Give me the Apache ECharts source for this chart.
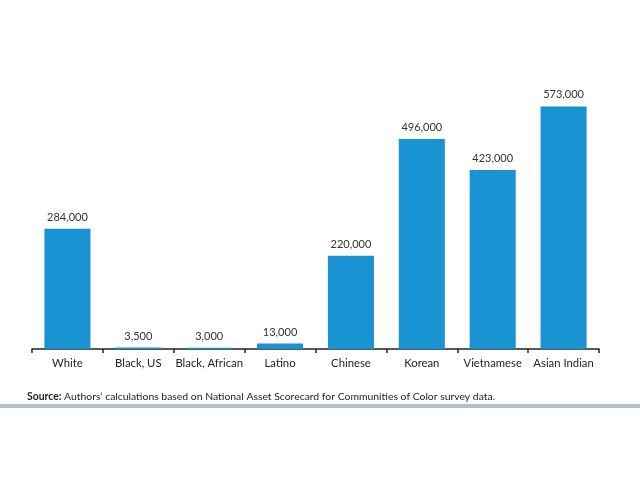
<!DOCTYPE html>
<html>
<head>
<meta charset="utf-8">
<script src="https://cdn.jsdelivr.net/npm/echarts@6/dist/echarts.min.js"></script>
<style>
  html, body { margin: 0; padding: 0; background: #fff; }
  #chart { width: 640px; height: 480px; }
</style>
</head>
<body>
<div id="chart"></div>
<script>
// groups and their values
const categories = ['White', 'Black, US', 'Black, African', 'Latino', 'Chinese', 'Korean', 'Vietnamese', 'Asian Indian'];
const values = [284000, 3500, 3000, 13000, 220000, 496000, 423000, 573000];
const sourceNote = 'Authors\u2019 calculations based on National Asset Scorecard for Communities of Color survey data.';

const chart = echarts.init(document.getElementById('chart'));
chart.setOption({
    animation: false,
    textStyle: { fontFamily: 'Lato' },
    grid: { left: 32, right: 41, top: 95, bottom: 131 },
    xAxis: {
        type: 'category',
        data: categories,
        axisLine: { lineStyle: { color: '#222', width: 1.5 } },
        axisTick: { show: true, interval: 0, length: 4, lineStyle: { color: '#222', width: 1.5 } },
        axisLabel: { interval: 0, color: '#222', fontSize: 11.3, margin: 9 }
    },
    yAxis: {
        type: 'value',
        min: 0,
        max: 600000,
        show: false,
        splitLine: { show: false }
    },
    series: [{
        type: 'bar',
        data: values,
        barWidth: '65%',
        itemStyle: { color: '#1a93d3' },
        label: {
            show: true,
            position: 'top',
            distance: 6,
            color: '#333',
            fontSize: 11,
            formatter: p => p.value.toLocaleString('en-US')
        }
    }],
    graphic: [
        {
            type: 'text',
            left: 27,
            top: 392,
            style: {
                text: '{b|Source:} ' + sourceNote,
                rich: { b: { fontWeight: 'bold', fontSize: 10.4, fontFamily: 'Lato', fill: '#222' } },
                fontSize: 10.4,
                fontFamily: 'Lato',
                fill: '#222'
            }
        },
        {
            type: 'rect',
            left: 0,
            top: 404,
            shape: { width: 640, height: 4 },
            style: { fill: '#b3bfcc' }
        }
    ]
});
</script>
</body>
</html>
